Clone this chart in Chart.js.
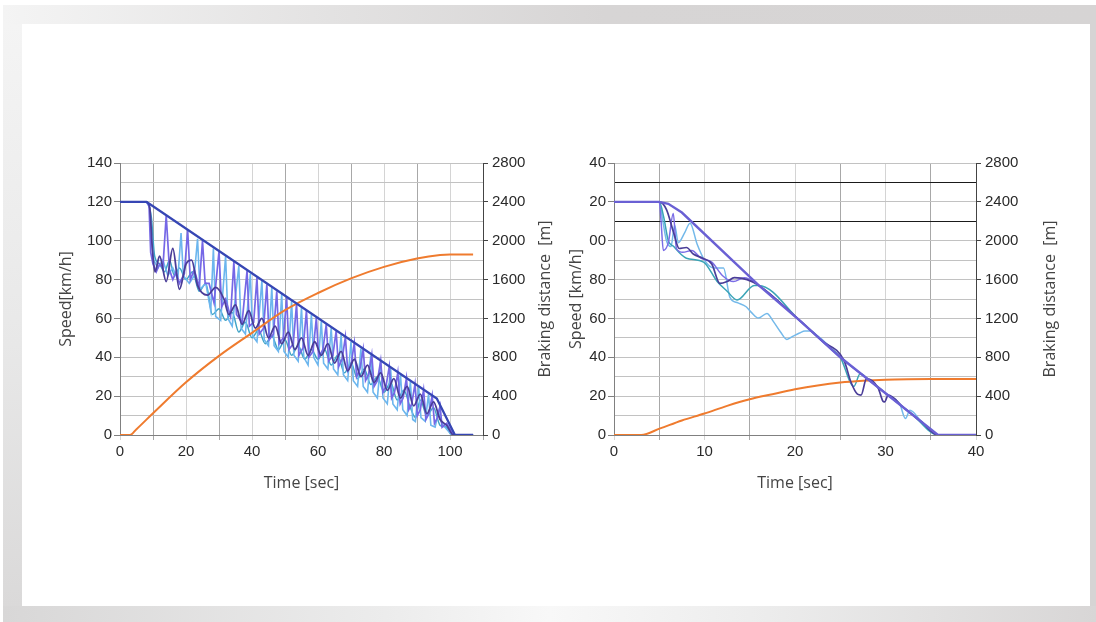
<!DOCTYPE html>
<html>
<head>
<meta charset="utf-8">
<script src="https://cdn.jsdelivr.net/npm/chart.js@4.4.1/dist/chart.umd.min.js"></script>
<style>
  html, body { margin: 0; padding: 0; background: #fff; }
  body { width: 1096px; height: 622px; position: relative; overflow: hidden; }
  .band { position: absolute; }
  #top { left: 3px; top: 5px; width: 1093px; height: 19px; background: linear-gradient(to right, #f4f4f4 0%, #e3e2e2 30%, #d7d5d5 55%, #d6d4d4 100%); }
  #left { left: 3px; top: 24px; width: 19px; height: 582px; background: linear-gradient(to bottom, #f4f4f4 0%, #e8e8e8 55%, #dad9d9 100%); }
  #right { left: 1090px; top: 24px; width: 6px; height: 582px; background: #d6d4d4; }
  #bottom { left: 3px; top: 606px; width: 1093px; height: 16px; background: linear-gradient(to right, #d8d7d7 0%, #ececec 35%, #f8f8f8 50%, #ececec 70%, #d8d6d6 100%); }
  #panel { left: 22px; top: 24px; width: 1068px; height: 582px; background: #fff; }
  canvas { position: absolute; }
</style>
</head>
<body>
<div class="band" id="top"></div>
<div class="band" id="left"></div>
<div class="band" id="right"></div>
<div class="band" id="bottom"></div>
<div class="band" id="panel"></div>
<canvas id="chartLong" width="520" height="350" style="left:40px; top:150px;"></canvas>
<canvas id="chartShort" width="510" height="350" style="left:560px; top:150px;"></canvas>
<script>
// tick labels
const longTimeLabels = [0, 20, 40, 60, 80, 100];
const shortTimeLabels = [0, 10, 20, 30, 40];
const speedLabelsLong = ['0', '20', '40', '60', '80', '100', '120', '140'];
const speedLabelsShort = ['0', '20', '40', '60', '80', '00', '20', '40'];
const distanceTicks = [0, 400, 800, 1200, 1600, 2000, 2400, 2800];
const darkLinesShort = [110, 130];

// long braking test: [time s, speed km/h]
const longEnvelope = [[0,120],[8,120],[9,118.9],[96,18.8],[101.5,0],[107,0]];
const longPurple = [[0,120],[8,120],[8.8,118],[9.3,94],[10,88],[11,84],[12,88],[13,86],[14,113],[15,85],[16,80],[17,84],[18,78],[19.5,83],[20.5,105.5],[21.3,80],[22.5,85],[24,76],[25,100],[25.8,78],[27,78],[28.5,68],[30,94.5],[30.8,66],[32,70],[33.5,61],[34.5,89],[35.3,62],[37,58],[38.5,84.5],[39.2,56],[40.5,58],[41.5,81],[42.2,52],[43.5,55],[44.5,77.5],[45.2,49],[46.5,52],[47.5,74],[48.2,47],[49.5,50],[50.5,70.5],[51.2,44],[52.5,47],[53.5,67.5],[54.2,41],[55.5,45],[56.5,64],[57.2,40],[58.5,43],[59.5,60.5],[60.2,40],[61.5,44],[62.5,57],[63.2,38],[64.5,41],[65.5,53.5],[66.2,35],[67.3,39],[68.3,50.5],[69,33],[70,36],[71,47.3],[71.7,30],[72.7,34],[73.7,44.2],[74.4,28],[75.3,31],[76.3,41.3],[77,25],[78,28],[79,38.3],[79.7,22],[80.6,25],[81.6,35.3],[82.3,19],[83.2,22],[84.2,32.3],[84.9,16],[85.8,19],[86.8,29.3],[87.5,13],[88.4,16],[89.4,26.3],[90.1,10],[91,13],[92,23.3],[92.7,8],[93.6,11],[94.6,20.3],[95.3,6],[96.2,9],[97,15],[97.6,4],[99,6],[101,0],[107,0]];
const longLightBlue = [[0,120],[8,120],[9,117],[9.6,100],[10.2,90],[11.5,86],[13,90],[14.5,82],[16,86],[17.5,80],[18.5,104],[19.2,82],[21,78],[22.5,82],[23.5,101],[24.2,75],[26,78],[27.5,64],[28.3,96],[29,61],[30.5,59],[32,92],[32.7,60],[34,56],[36,87],[36.7,55],[38,52],[39.5,83],[40.2,51],[41.5,48],[43,79.5],[43.7,49],[45,46],[46,76],[46.7,46],[48,43],[49,72.5],[49.7,43],[51,40],[52,69],[52.7,41],[54,38],[55,65.5],[55.7,40],[57,36],[58,62],[58.7,40],[60,36],[61,58.5],[61.7,37],[63,34],[64,55],[64.7,34],[66,31],[67,51.5],[67.7,31],[69,28],[70,48],[70.7,28],[72,25],[73,44.5],[73.7,25],[75,22],[76,41],[76.7,22],[78,19],[79,38],[79.7,19],[81,16],[82,34.5],[82.7,16],[84,13],[85,31],[85.7,13],[87,10],[88,27.5],[88.7,8],[89.5,7],[90.5,24.5],[91.2,9],[92.5,7],[93.5,21],[94.2,5],[95.5,4],[96.5,12],[97.5,6],[99,3],[100.5,0],[107,0]];
const longIndigo = [[0,120],[8,120],[9,117],[9.8,96],[10.6,84],[12,92],[14,79],[16,96],[18,75],[20,88],[21.7,90],[23.5,77],[26.5,72],[29,76],[31.5,70],[33,62],[35,67],[37,57],[39,64],[41,55],[43,60],[45,50],[47,56],[49,47],[51,53],[53,44],[55,50],[57,41],[59,48],[61,41],[63,47],[65,37],[67,43],[69,33],[71,39],[73,30],[75,36],[77,27],[79,32],[81,23],[83,29],[85,19],[87,25],[89,15],[91,21],[93,11],[95,17],[97,8],[99,5],[101,0],[107,0]];
const longTeal = [[0,120],[8,120],[9.5,112],[10.5,92],[12,88],[13.5,84],[15,90],[16.5,82],[18,86],[20,80],[22,84],[24,74],[26,78],[28,62],[30,65],[32,59],[34,63],[36,53],[38,58],[40,50],[42,54],[44,47],[46,51],[48,44],[50,49],[52,41],[54,46],[56,39],[58,44],[60,39],[62,44],[64,36],[66,41],[68,32],[70,37],[72,29],[74,34],[76,26],[78,30],[80,22],[82,27],[84,18],[86,23],[88,14],[89.5,9],[91,18],[93,10],[95,14],[97,5],[99,4],[100.5,0],[107,0]];
// [time s, braking distance m]
const longDistance = [[0,0],[3,0],[5,60],[10,224],[20,543],[30,815],[40,1052],[50,1285],[60,1462],[70,1612],[80,1731],[90,1816],[97,1852],[100,1857],[107,1857]];

// short braking test
const shortEnvelope = [[0,120],[5,120],[6,119],[7.5,114.5],[16,77],[20.6,58.6],[25,40],[35.8,0],[40,0]];
const shortIndigo = [[0,120],[5,120],[5.8,116],[6.6,104],[7.2,96],[8,96.5],[8.8,93],[9.8,91],[10.8,88],[11.7,78],[12.5,79],[13.3,81],[14.7,80],[16,77],[20.6,58.6],[23,48.4],[25.4,38.5],[26.2,27],[26.9,21],[27.3,20.5],[27.9,29],[29.2,24],[29.7,17.5],[29.9,17],[30.3,20.5],[32,14.1],[34,6.7],[35.8,0],[40,0]];
const shortTeal = [[0,120],[5,120],[5.5,112],[6,100],[6.6,97],[7.4,93],[8,91],[9.9,89],[11.4,79],[12.5,74],[13.6,69.5],[15.5,77],[16,77],[20.6,58.6],[23.5,46.3],[25,40],[26.5,25],[27.2,31.5],[28,29],[30,21.5],[33,10.4],[35.8,0],[36.5,0]];
const shortLightBlue = [[0,120],[5,120],[5.4,110],[5.8,100],[6.3,97],[6.7,108],[7.1,99],[7.8,104],[8.4,109],[9.2,98],[10,90],[11,86],[12.1,86],[12.8,71],[13.7,68],[14.6,66],[15.2,63],[15.95,60.2],[16.9,62.6],[17.6,58.5],[18.4,53],[19.1,49.2],[19.8,50.9],[20.5,52.5],[21.1,53.5],[21.7,53.5],[22.5,51],[23.5,47],[25,40],[28,29],[30,21.5],[31.6,15.6],[32.2,8.5],[32.7,12.7],[34,6.7],[35.8,0],[40,0]];
const shortPurple = [[0,120],[5,120],[5.2,110],[5.45,95],[6,99],[6.55,114],[6.9,96],[7.6,94],[8.6,95],[9.6,91],[10.8,89],[12,82],[13.2,79],[14.4,81],[16,77],[20.6,58.6],[25,40],[28,28.9],[31,17.8],[34,6.7],[35.8,0],[40,0]];
const shortDistance = [[0,0],[3,0],[5.1,68],[7.5,150],[10,221],[12.5,300],[15,368],[17.5,420],[20,470],[22.5,510],[25,540],[27.5,558],[30,569],[32.5,574],[35,576],[40,576]];

const tickFont = { family: 'Liberation Sans, Arial, sans-serif', size: 15 };
const titleFont = { family: 'Open Sans, sans-serif', size: 16 };

function line(pts, color, width, smooth, axis) {
    return {
        data: pts.map(p => ({ x: p[0], y: p[1] })),
        borderColor: color,
        borderWidth: width,
        pointRadius: 0,
        tension: smooth ? 0.4 : 0,
        cubicInterpolationMode: smooth ? 'monotone' : 'default',
        fill: false,
        yAxisID: axis || 'speed'
    };
}

// right-hand title reads bottom to top, like the left one
const distTitle = {
    id: 'distTitle',
    afterDraw(chart, args, opts) {
        const s = chart.scales.dist;
        const ctx = chart.ctx;
        ctx.save();
        ctx.translate(s.right - opts.offset, (s.top + s.bottom) / 2);
        ctx.rotate(-Math.PI / 2);
        ctx.font = '16px "Open Sans", sans-serif';
        ctx.fillStyle = '#444';
        ctx.textAlign = 'center';
        ctx.textBaseline = 'middle';
        ctx.fillText('Braking distance  [m]', 0, 0);
        ctx.restore();
    }
};

function buildChart(id, cfg) {
    return new Chart(document.getElementById(id), {
        type: 'line',
        data: { datasets: cfg.datasets },
        plugins: [distTitle],
        options: {
            responsive: false,
            animation: false,
            layout: { padding: { top: 10, bottom: 0, left: 0, right: 0 } },
            plugins: {
                legend: { display: false },
                tooltip: { enabled: false },
                distTitle: { offset: cfg.distTitleOffset }
            },
            scales: {
                x: {
                    type: 'linear',
                    min: 0,
                    max: cfg.xMax,
                    afterFit: s => { s.height = 65; },
                    ticks: {
                        stepSize: cfg.xStep,
                        autoSkip: false,
                        maxRotation: 0,
                        padding: 3,
                        color: '#2a2a2a',
                        font: tickFont,
                        callback: v => cfg.xLabels.includes(v) ? String(v) : ''
                    },
                    grid: {
                        color: c => (Math.round(c.tick.value / cfg.xStep) % 2 === 1) ? '#a8a8a8' : '#d4d4d4',
                        tickLength: 5
                    },
                    border: { color: '#808080' },
                    title: { display: true, text: 'Time [sec]', color: '#444', font: titleFont, padding: { top: 0, bottom: 7 } }
                },
                speed: {
                    type: 'linear',
                    position: 'left',
                    min: 0,
                    max: 140,
                    afterFit: s => { s.width = cfg.leftW; },
                    ticks: {
                        stepSize: 10,
                        autoSkip: false,
                        padding: 2,
                        color: '#2a2a2a',
                        font: tickFont,
                        callback: v => v % 20 === 0 ? cfg.speedLabels[v / 20] : ''
                    },
                    grid: {
                        color: c => cfg.darkLines.includes(c.tick.value) ? '#1a1a1a' : '#c2c2c2',
                        tickColor: c => c.tick.value % 20 === 0 ? '#808080' : 'rgba(0,0,0,0)',
                        tickLength: 6
                    },
                    border: { color: '#808080' },
                    title: { display: true, text: cfg.speedTitle, color: '#444', font: titleFont, padding: { top: cfg.speedTitlePad, bottom: 0 } }
                },
                dist: {
                    type: 'linear',
                    position: 'right',
                    min: 0,
                    max: 2800,
                    afterFit: s => { s.width = cfg.rightW; },
                    afterBuildTicks: s => { s.ticks = distanceTicks.map(v => ({ value: v })); },
                    ticks: { padding: 4, color: '#2a2a2a', font: tickFont, callback: v => String(v) },
                    grid: { drawOnChartArea: false, tickLength: 5, color: '#444' },
                    border: { color: '#444' },
                    title: { display: false }
                }
            }
        }
    });
}

buildChart('chartLong', {
    xMax: 110, xStep: 10, xLabels: longTimeLabels,
    speedLabels: speedLabelsLong, speedTitle: 'Speed[km/h]',
    leftW: 80, rightW: 77, speedTitlePad: 17, distTitleOffset: 15,
    darkLines: [],
    datasets: [
        line(longEnvelope, '#3646b4', 2.3, false),
        line(longDistance, '#ef7b2e', 2, true, 'dist'),
        line(longIndigo, '#4a3d98', 1.8, true),
        line(longPurple, '#7567e6', 1.7, false),
        line(longLightBlue, '#6cb6ee', 1.6, false),
        line(longTeal, '#3fa3c6', 1.5, true)
    ]
});

buildChart('chartShort', {
    xMax: 40, xStep: 5, xLabels: shortTimeLabels,
    speedLabels: speedLabelsShort, speedTitle: 'Speed [km/h]',
    leftW: 54, rightW: 94, speedTitlePad: 7, distTitleOffset: 20,
    darkLines: darkLinesShort,
    datasets: [
        line(shortEnvelope, '#6a60d4', 2.4, false),
        line(shortIndigo, '#4a3d98', 1.7, true),
        line(shortDistance, '#ef7b2e', 2, true, 'dist'),
        line(shortPurple, '#7b6de6', 1.5, true),
        line(shortTeal, '#3aa4b6', 1.5, true),
        line(shortLightBlue, '#74b9ea', 1.5, true)
    ]
});
</script>
</body>
</html>
